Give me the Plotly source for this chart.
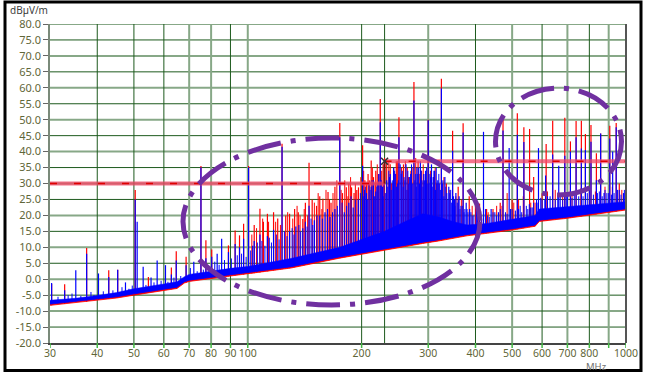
import numpy as np
import plotly.graph_objects as go

# ---------------- data ----------------
floor_freq = [30, 35, 40, 45, 50, 55, 60, 65, 68, 70, 80, 90, 100, 130, 175, 230, 260, 290,
              320, 350, 380, 430, 500, 575, 590, 700, 800, 900, 1000]
blue_low = [-7.8, -7.0, -6.3, -5.5, -4.6, -3.8, -3.0, -2.5, -0.8, -0.3, 0.6, 1.4, 2.0, 3.9, 7.0,
            9.6, 10.6, 11.6, 12.4, 13.3, 14.0, 14.8, 15.8, 17.0, 18.5, 19.5, 20.5, 21.3, 22.1]
blue_high = [-6.6, -6.0, -5.1, -4.2, -3.0, -2.3, -1.5, -0.8, 0.8, 1.5, 2.6, 3.4, 4.0, 6.5, 10.0,
             15.0, 18.0, 20.5, 19.5, 18.0, 17.0, 17.5, 18.8, 20.0, 22.0, 22.8, 23.2, 23.8, 24.3]
red_low = [-8.2, -7.4, -6.7, -5.9, -5.0, -4.2, -3.4, -2.9, -1.2, -0.7, 0.2, 1.0, 1.6, 3.5, 6.6,
           9.2, 10.2, 11.2, 12.0, 12.9, 13.6, 14.4, 15.4, 16.6, 18.1, 19.1, 20.1, 20.9, 21.7]
red_high = [-7.0, -6.4, -5.6, -4.7, -3.6, -2.9, -2.0, -1.3, 0.2, 0.9, 2.0, 2.8, 3.5, 6.0, 9.5,
            14.5, 17.5, 20.0, 19.0, 17.5, 16.5, 17.0, 18.3, 19.5, 21.5, 22.3, 22.7, 23.3, 23.8]

# main emissions (peaks)
blue_spk_f = [30.3, 32.8, 35.1, 37.5, 40.3, 42.9, 45.3, 47.5, 50.4, 51.0, 52.9, 55.5, 57.6, 60.6,
              62.8, 64.7, 68.7, 72.0, 75.2, 77.5, 80.3, 83.0, 85.3, 88.9, 92.6, 95.1, 97.5, 100.5,
              104.0, 107.7, 112.7, 117.0, 123.2, 129.0, 134.0, 139.8, 145.2, 150.0, 155.0, 160.0,
              165.0, 170.0, 175.1, 180.0, 185.0, 190.0, 196.0, 201.2, 206.0, 212.0, 218.0, 222.0,
              224.0, 227.0, 233.0, 238.0, 243.0, 251.0, 256.0, 262.0, 268.0, 275.0, 280.0, 286.0,
              292.0, 300.0, 306.0, 312.0, 318.0, 325.0, 332.0, 340.0, 348.0, 355.0, 362.0, 371.0,
              378.0, 386.0, 402.0, 420.0, 440.0, 460.0, 473.0, 491.0, 516.0, 537.0, 560.0, 587.0,
              613.0, 640.0, 664.0, 689.0, 713.0, 738.0, 762.0, 781.0, 808.0, 835.0, 857.0, 875.0,
              906.0, 922.0, 942.0, 985.0]
blue_spk_v = [-1.2, -3.5, 2.8, 8.0, 1.8, 0.7, 3.0, -1.0, 25.0, 18.0, 3.9, 0.5, 5.9, 4.4,
              1.5, 5.9, 4.4, 5.5, 35.0, 6.6, 7.0, 8.0, 12.7, 8.5, 11.0, 10.0, 12.7, 35.0,
              12.0, 14.0, 13.5, 15.5, 41.5, 15.0, 16.5, 16.0, 23.0, 18.5, 20.0, 21.0,
              19.5, 22.0, 44.5, 21.0, 24.0, 22.5, 25.0, 35.6, 27.0, 29.0, 27.5, 33.0,
              49.2, 29.0, 31.0, 33.0, 35.0, 44.5, 34.0, 36.0, 32.0, 56.0, 35.0, 37.0,
              33.0, 49.8, 36.0, 34.0, 31.0, 59.8, 32.0, 29.0, 40.3, 27.0, 26.0, 46.0,
              24.0, 22.0, 22.0, 46.2, 22.0, 21.0, 46.6, 41.1, 45.3, 43.0, 22.5, 41.1,
              32.5, 39.1, 35.6, 38.7, 40.0, 44.5, 41.0, 40.5, 43.1, 31.0, 45.7, 27.0,
              44.1, 40.0, 47.6, 27.0]

red_spk_f = [30.3, 32.8, 37.5, 42.9, 45.3, 50.4, 54.6, 62.8, 64.7, 68.7, 75.2, 77.5, 80.3, 88.9,
             92.6, 95.1, 97.5, 100.5, 104.0, 107.7, 110.0, 112.7, 117.0, 120.0, 123.2, 126.0,
             129.0, 133.0, 136.0, 139.8, 142.0, 145.2, 148.0, 152.0, 155.0, 158.0, 163.0, 166.0,
             170.0, 175.1, 178.0, 182.2, 185.0, 188.1, 191.0, 194.2, 196.2, 201.2, 204.0, 208.0,
             212.0, 215.0, 218.0, 222.0, 224.0, 228.0, 233.0, 238.0, 243.0, 247.0, 251.0, 258.0,
             264.0, 270.0, 275.0, 282.0, 288.0, 295.0, 300.0, 310.0, 316.0, 325.0, 335.0, 348.0,
             360.0, 371.0, 385.0, 400.0, 410.0, 428.0, 445.0, 465.0, 473.0, 500.0, 516.0, 537.0,
             556.0, 570.0, 615.0, 640.0, 689.0, 713.0, 738.0, 762.0, 781.0, 808.0, 835.0, 857.0,
             906.0, 942.0, 960.0]
red_spk_v = [-1.5, -1.6, 9.8, 2.8, 3.0, 28.0, 0.7, 3.7, 8.75, 7.0, 35.5, 12.2, 9.3, 10.6,
             15.3, 13.75, 17.4, 35.5, 17.0, 22.1, 18.0, 20.5, 21.0, 19.0, 42.5, 20.0,
             20.5, 22.0, 21.0, 18.9, 24.0, 36.5, 25.0, 23.0, 26.0, 25.2, 27.3, 24.0,
             29.0, 49.0, 27.0, 28.8, 30.0, 28.8, 27.0, 28.0, 28.8, 42.0, 31.0, 33.0,
             37.2, 32.0, 34.0, 33.0, 56.5, 36.0, 37.0, 36.0, 35.0, 37.0, 50.8, 36.0,
             35.0, 34.0, 61.8, 37.0, 34.0, 33.0, 50.0, 32.0, 30.0, 62.8, 30.0, 46.5,
             29.0, 48.9, 26.0, 25.0, 23.7, 22.0, 22.0, 24.0, 50.2, 25.0, 52.0, 47.6,
             47.1, 32.0, 42.4, 49.7, 50.6, 43.2, 49.6, 49.7, 45.5, 48.3, 39.5, 45.7,
             48.1, 49.0, 30.0]

# minor emissions forming the dense "grass"
blue_minor_f = [31.5, 33.5, 34.3, 36.2, 38.5, 39.2, 41.5, 44.0, 46.5, 48.5, 49.5, 53.8, 56.5, 59.0,
                61.5, 63.8, 66.5, 70.5, 73.5, 76.3, 79.0, 81.8, 84.0, 86.8, 90.5, 93.8, 96.3, 99.0,
                101.8, 103.0, 106.0, 109.0, 111.0, 114.0, 115.5, 119.0, 121.0, 125.0, 127.0, 131.0,
                132.5, 136.5, 138.0, 142.0, 143.5, 147.0, 148.5, 152.5, 157.5, 162.5, 167.5, 172.5,
                177.5, 182.5, 187.5, 192.5, 198.5, 201.8, 203.5, 204.5, 207.5, 209.0, 210.5, 213.0,
                215.0, 216.5, 219.5, 220.0, 225.5, 228.0, 229.0, 231.0, 234.5, 236.0, 237.0, 239.5,
                241.0, 242.0, 244.5, 246.0, 247.5, 249.0, 250.0, 253.0, 254.5, 257.5, 259.0, 260.5,
                263.5, 265.0, 266.5, 269.5, 271.0, 273.0, 276.5, 278.0, 279.0, 281.5, 283.0, 284.5,
                287.5, 289.0, 290.5, 293.5, 295.0, 297.0, 298.0, 301.5, 303.0, 304.5, 307.5, 309.0,
                310.5, 313.5, 315.0, 316.5, 320.0, 321.0, 323.0, 327.0, 328.0, 330.0, 334.0, 336.0,
                338.0, 342.0, 344.0, 346.0, 350.0, 352.0, 353.0, 358.0, 360.0, 364.0, 366.0, 369.0,
                373.0, 375.0, 380.0, 382.0, 389.0, 392.0, 396.0, 405.0, 410.0, 415.0, 425.0, 430.0,
                435.0, 445.0, 450.0, 455.0, 465.0, 480.0, 485.0, 495.0, 500.0, 510.0, 520.0, 525.0,
                530.0, 545.0, 550.0, 555.0, 565.0, 570.0, 580.0, 585.0, 595.0, 600.0, 610.0, 620.0,
                630.0, 650.0, 660.0, 670.0, 680.0, 695.0, 700.0, 720.0, 730.0, 750.0, 770.0, 790.0,
                800.0, 820.0, 840.0, 850.0, 865.0, 880.0, 890.0, 900.0, 915.0, 930.0, 950.0, 960.0,
                970.0, 990.0]
blue_minor_v = [-5.5, -5.0, -4.5, -5.2, -4.0, -5.0, -3.8, -3.5, -2.5, -3.0, -2.0, -1.8, -1.0, -0.5,
                -0.8, 0.5, 1.0, 3.5, 2.5, 3.0, 4.0, 5.5, 4.5, 6.0, 6.5, 7.5, 8.0, 7.0,
                9.0, 10.5, 11.5, 12.0, 10.5, 13.0, 11.5, 14.0, 12.5, 15.0, 13.5, 16.0,
                14.0, 17.0, 15.0, 18.0, 16.5, 19.0, 17.0, 20.0, 19.0, 22.0, 21.0, 23.0,
                24.0, 23.0, 26.0, 25.0, 27.0, 26.0, 28.0, 29.0, 25.0, 30.0, 28.0, 31.0,
                31.0, 26.0, 29.0, 30.0, 31.0, 26.0, 30.0, 27.0, 29.0, 34.0, 32.0, 28.0,
                31.0, 30.0, 34.0, 33.0, 29.0, 30.0, 31.0, 36.0, 33.0, 29.0, 32.0, 31.0,
                28.0, 34.0, 30.0, 33.0, 36.0, 30.0, 31.0, 33.0, 29.0, 33.0, 35.0, 30.0,
                34.0, 31.0, 29.0, 31.0, 34.0, 35.0, 30.0, 30.0, 33.0, 32.0, 29.0, 32.0,
                34.0, 28.0, 35.0, 30.0, 33.0, 30.0, 28.0, 30.0, 31.0, 26.0, 29.0, 27.0,
                25.0, 27.0, 28.0, 24.0, 26.0, 25.0, 23.0, 24.0, 25.0, 22.0, 23.0, 23.0,
                21.0, 22.0, 22.0, 21.0, 21.0, 20.0, 20.0, 21.0, 20.5, 20.0, 22.0, 20.0,
                19.5, 21.0, 21.0, 20.0, 22.0, 21.0, 20.5, 22.0, 22.0, 21.5, 22.0, 23.0,
                21.0, 23.0, 22.0, 23.5, 22.5, 24.0, 25.0, 24.0, 25.5, 25.0, 25.0, 26.0,
                26.0, 25.0, 26.0, 26.5, 25.0, 26.0, 27.0, 25.5, 27.0, 26.0, 26.0, 27.0,
                28.0, 26.5, 27.0, 27.5, 26.0, 28.0, 27.0, 27.0, 26.5, 27.0, 28.0, 28.0,
                26.5, 28.0]

red_minor_f = [102.5, 105.5, 109.5, 113.5, 118.5, 122.0, 127.5, 131.5, 135.0, 137.5, 141.0, 144.0,
               150.0, 153.5, 157.0, 161.0, 164.5, 168.0, 172.0, 176.5, 180.5, 184.0, 187.0, 192.5,
               199.0, 202.5, 206.0, 210.0, 213.5, 217.0, 220.0, 226.0, 230.0, 236.0, 240.0, 245.0,
               249.0, 255.0, 261.0, 266.0, 272.0, 278.0, 285.0, 291.0, 297.0, 304.0, 313.0, 320.0,
               330.0, 342.0, 355.0, 367.0, 392.0, 408.0, 420.0, 432.0, 455.0, 470.0, 485.0, 505.0,
               520.0, 535.0, 560.0, 575.0, 600.0, 620.0, 650.0, 680.0, 720.0, 760.0, 800.0, 830.0,
               880.0, 920.0, 975.0]
red_minor_v = [14.0, 16.0, 19.0, 18.0, 18.0, 17.0, 21.0, 19.0, 23.0, 20.0, 22.0, 20.0,
               24.0, 27.0, 22.0, 28.0, 25.0, 27.0, 31.0, 28.0, 31.0, 26.0, 32.0, 30.0,
               32.0, 34.0, 30.0, 31.0, 35.0, 30.0, 36.0, 34.0, 38.0, 37.0, 30.0, 33.0,
               37.0, 35.0, 37.0, 32.0, 35.0, 38.0, 33.0, 36.0, 31.0, 34.0, 35.0, 30.0,
               32.0, 28.0, 26.0, 25.0, 23.0, 22.5, 24.0, 21.0, 23.0, 23.0, 27.0, 24.0,
               25.0, 26.0, 24.0, 24.0, 27.0, 27.5, 28.0, 26.5, 27.0, 28.5, 28.0, 27.5,
               29.0, 29.0, 28.0]

limit_freq = [30, 230, 230, 1000]
limit_level = [30, 30, 37, 37]

x_ticks = [30, 40, 50, 60, 70, 80, 90, 100, 200, 300, 400, 500, 600, 700, 800, 900, 1000]
x_labels = ["30", "40", "50", "60", "70", "80", "90", "100", "200", "300", "400", "500",
            "600", "700", "800", "", "1000"]
y_ticks = list(range(-20, 85, 5))
y_labels = [f"{v:.1f}" for v in y_ticks]

# ---------------- layout constants ----------------
W, H = 645, 376
L, R, T, B = 50, 19, 24, 33
PW, PH = W - L - R, H - T - B


def px(xp):
    return (xp - L) / PW


def py(yp):
    return (H - B - yp) / PH


def spikes(freqs, levels, low_f, low_v):
    lf = np.log10(np.array(low_f, dtype=float))
    xs, ys = [], []
    for f, v in zip(freqs, levels):
        base = float(np.interp(np.log10(f), lf, low_v))
        xs += [f, f, None]
        ys += [base, v, None]
    return xs, ys


def add_band(fig, lo, hi, color):
    fig.add_trace(go.Scatter(x=floor_freq, y=lo, mode="lines", line=dict(color=color, width=0.8),
                             hoverinfo="skip", showlegend=False))
    fig.add_trace(go.Scatter(x=floor_freq, y=hi, mode="lines", line=dict(color=color, width=0.5),
                             fill="tonexty", fillcolor=color, hoverinfo="skip", showlegend=False))


def add_spikes(fig, f, v, lo, color, width):
    xs, ys = spikes(f, v, floor_freq, lo)
    fig.add_trace(go.Scatter(x=xs, y=ys, mode="lines", line=dict(color=color, width=width),
                             hoverinfo="skip", showlegend=False))


fig = go.Figure()

RED, BLUE = "#FF0000", "#0000FF"
add_band(fig, red_low, red_high, RED)
add_spikes(fig, red_minor_f, red_minor_v, red_low, RED, 1.0)
add_spikes(fig, red_spk_f, red_spk_v, red_low, RED, 1.2)
add_band(fig, blue_low, blue_high, BLUE)
add_spikes(fig, blue_minor_f, blue_minor_v, blue_low, BLUE, 1.0)
add_spikes(fig, blue_spk_f, blue_spk_v, blue_low, BLUE, 1.2)

# limit line: pink halo + red dashes
PINK = "rgba(240,70,100,0.75)"
for a, b in [(0, 2), (2, 4)]:
    fig.add_trace(go.Scatter(x=limit_freq[a:b], y=limit_level[a:b], mode="lines",
                             line=dict(color=PINK, width=4), showlegend=False, hoverinfo="skip"))
    fig.add_trace(go.Scatter(x=limit_freq[a:b], y=limit_level[a:b], mode="lines",
                             line=dict(color="#E00000", width=1.5, dash="7px,17px"),
                             showlegend=False, hoverinfo="skip"))
fig.add_trace(go.Scatter(x=limit_freq[1:3], y=limit_level[1:3], mode="lines",
                         line=dict(color="#7a1010", width=2), showlegend=False, hoverinfo="skip"))
fig.add_trace(go.Scatter(x=[limit_freq[2]], y=[limit_level[2]], mode="markers",
                         marker=dict(symbol="x-thin", size=7, line=dict(color="#333333", width=1.5)),
                         showlegend=False, hoverinfo="skip"))

shapes = []
DARK = "#1d5a1d"
LIGHT = "#87a887"
for v in y_ticks:
    if v == -20:
        continue
    major = (v % 10 == 0)
    shapes.append(dict(type="line", xref="paper", yref="y", x0=0, x1=1, y0=v, y1=v, layer="below",
                       line=dict(color=LIGHT if major else DARK, width=2 if major else 1)))
light_v = {70, 80, 100, 300, 500, 700, 900}
for f in x_ticks[1:-1] + [230]:
    lt = f in light_v
    shapes.append(dict(type="line", xref="x", yref="paper", x0=f, x1=f, y0=0, y1=1, layer="below",
                       line=dict(color=LIGHT if lt else DARK, width=2 if lt else 1)))
# x tick marks (green, below the axis)
for f in x_ticks:
    shapes.append(dict(type="line", xref="x", yref="paper", x0=f, x1=f, y0=0, y1=py(H - B + 5),
                       line=dict(color="#44bb44", width=1.5)))
shapes.append(dict(type="line", xref="paper", yref="paper", x0=1, x1=1, y0=0, y1=1,
                   line=dict(color="#555555", width=2)))
shapes.append(dict(type="rect", xref="paper", yref="paper", x0=px(5), x1=px(641), y0=py(370.5), y1=py(2),
                   line=dict(color="#000000", width=3)))
PURPLE = "#7030A0"
shapes.append(dict(type="circle", xref="paper", yref="paper", x0=px(183), x1=px(480), y0=py(305), y1=py(138),
                   line=dict(color=PURPLE, width=5, dash="34px,10px,5px,10px")))
shapes.append(dict(type="circle", xref="paper", yref="paper", x0=px(495.5), x1=px(621.5), y0=py(195), y1=py(88),
                   line=dict(color=PURPLE, width=5, dash="34px,10px,5px,10px")))

TICKC = "#5f6638"
FONT = "Noto Sans"
fig.update_layout(
    width=W, height=H,
    margin=dict(l=L, r=R, t=T, b=B, pad=0),
    paper_bgcolor="white", plot_bgcolor="white",
    shapes=shapes,
    xaxis=dict(type="log", range=[np.log10(30), np.log10(1000)], tickmode="array",
               tickvals=x_ticks, ticktext=x_labels, showgrid=False, zeroline=False,
               showline=True, linecolor="#444444", linewidth=1.5, tickangle=0, automargin=False,
               ticks="", tickfont=dict(family=FONT, size=10.5, color=TICKC)),
    yaxis=dict(range=[-20, 80], tickmode="array", tickvals=y_ticks, ticktext=y_labels,
               showgrid=False, zeroline=False, showline=True, linecolor="#7a8a7a", linewidth=1.5,
               ticks="outside", ticklen=5, tickcolor="#666666", automargin=False,
               tickfont=dict(family=FONT, size=11, color=TICKC)),
    annotations=[
        dict(text="dBµV/m", xref="paper", yref="paper", x=px(8), y=py(10), xanchor="left", yanchor="middle",
             showarrow=False, font=dict(family=FONT, size=10, color="#404040")),
        dict(text="MHz", xref="paper", yref="paper", x=px(596), y=py(366), xanchor="center", yanchor="middle",
             showarrow=False, font=dict(family=FONT, size=9.5, color="#707070")),
    ],
)

fig.write_html("out.html")
